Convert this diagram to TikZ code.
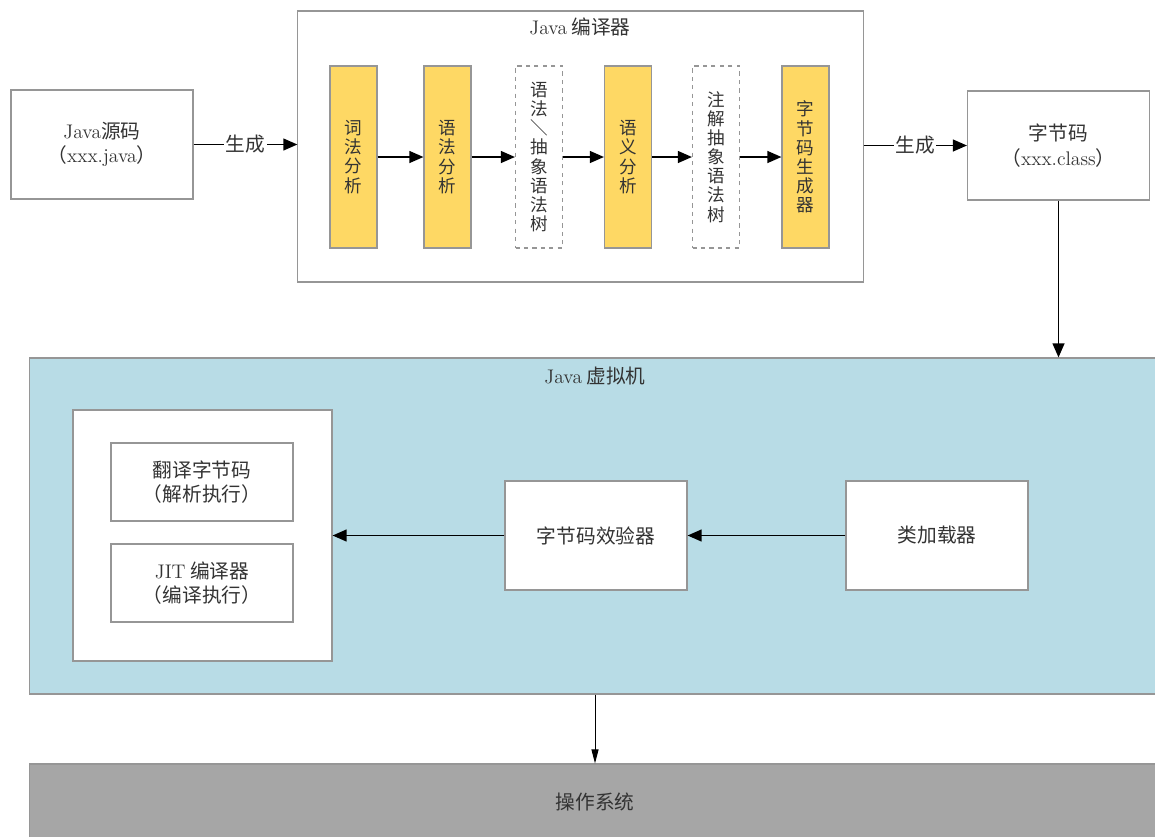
\documentclass[tikz,border=0pt]{standalone}
\usepackage{fontspec}
\newfontfamily\cjk{Noto Sans CJK SC}
\usetikzlibrary{arrows.meta, positioning, calc}
\definecolor{jvmblue}{RGB}{184,220,230}
\definecolor{stageyellow}{RGB}{254,216,100}
\definecolor{osgray}{RGB}{166,166,166}
\definecolor{edgegray}{RGB}{150,150,150}

\begin{document}
\begin{tikzpicture}[x=0.025cm, y=-0.025cm,
    every node/.style={font=\cjk\fontsize{14}{17.5}\selectfont, text=black!80},
    box/.style={draw=edgegray, line width=0.8pt, fill=white, minimum width=4.55cm, minimum height=2.725cm, align=center},
    stage/.style={draw=edgegray, line width=0.8pt, fill=stageyellow, minimum width=1.175cm, minimum height=4.55cm, align=center, inner sep=0pt, font=\cjk\fontsize{12.5}{13.6}\selectfont},
    tree/.style={stage, fill=white, dashed},
    frame/.style={draw=edgegray, line width=0.8pt},
    flow/.style={-{Triangle[length=10pt,width=8.5pt]}, line width=1pt},
    thin flow/.style={-{Triangle[length=10pt,width=5pt]}, line width=0.7pt},
    tag/.style={fill=white, inner sep=1pt},
  ]
  \clip (0,0) rectangle (1155,836);

  % Java compiler
  \node[box] (src) at (102,144.5) {{\rmfamily Java}源码\\（{\rmfamily xxx.java}）};
  \node[frame, minimum width=14.125cm, minimum height=6.775cm] (javac) at (580.5,146.5) {};
  \node (javac title) at (580,27) {{\rmfamily Java} 编译器};
  \node[stage] (lex) at (353.5,157) {词\\法\\分\\析};
  \node[stage] (syn) at (447.5,157) {语\\法\\分\\析};
  \node[tree] (ast) at (539,157) {语\\法\\＼\\抽\\象\\语\\法\\树};
  \node[stage] (sem) at (628,157) {语\\义\\分\\析};
  \node[tree] (aast) at (716,157) {注\\解\\抽\\象\\语\\法\\树};
  \node[stage] (gen) at (805.5,157) {字\\节\\码\\生\\成\\器};
  \node[box] (bytecode) at (1058.5,145.5) {字节码\\（{\rmfamily xxx.class}）};

  \draw[flow] (src.east) -- node[tag] {生成} (src.east -| javac.west);
  \foreach \a/\b in {lex/syn, syn/ast, ast/sem, sem/aast, aast/gen}
    \draw[flow] (\a) -- (\b);
  \draw[flow] (bytecode.west -| javac.east) -- node[tag] {生成} (bytecode.west);

  % Java virtual machine
  \node[draw=edgegray, line width=0.8pt, fill=jvmblue, minimum width=28.25cm, minimum height=8.4cm] (jvm) at (595,526) {};
  \node (jvm title) at (595,376) {{\rmfamily Java} 虚拟机};
  \node[frame, fill=white, minimum width=6.475cm, minimum height=6.275cm] (engine) at (202.5,535.5) {};
  \node[box, minimum height=1.95cm] (interp) at (202,482) {翻译字节码\\（解析执行）};
  \node[box, minimum height=1.95cm] (jit) at (202,583) {{\rmfamily JIT} 编译器\\（编译执行）};
  \node[box] (verify) at (596,535.5) {字节码效验器};
  \node[box] (loader) at (937,535.5) {类加载器};

  \draw[flow] (bytecode.south) -- (bytecode.south |- jvm.north);
  \draw[flow] (loader) -- (verify);
  \draw[flow] (verify) -- (engine);

  % operating system
  \node[draw=edgegray, line width=0.8pt, fill=osgray, minimum width=28.25cm, minimum height=1.9cm] (os) at (595,802) {操作系统};
  \draw[thin flow] (jvm.south) -- (os.north);
\end{tikzpicture}
\end{document}
